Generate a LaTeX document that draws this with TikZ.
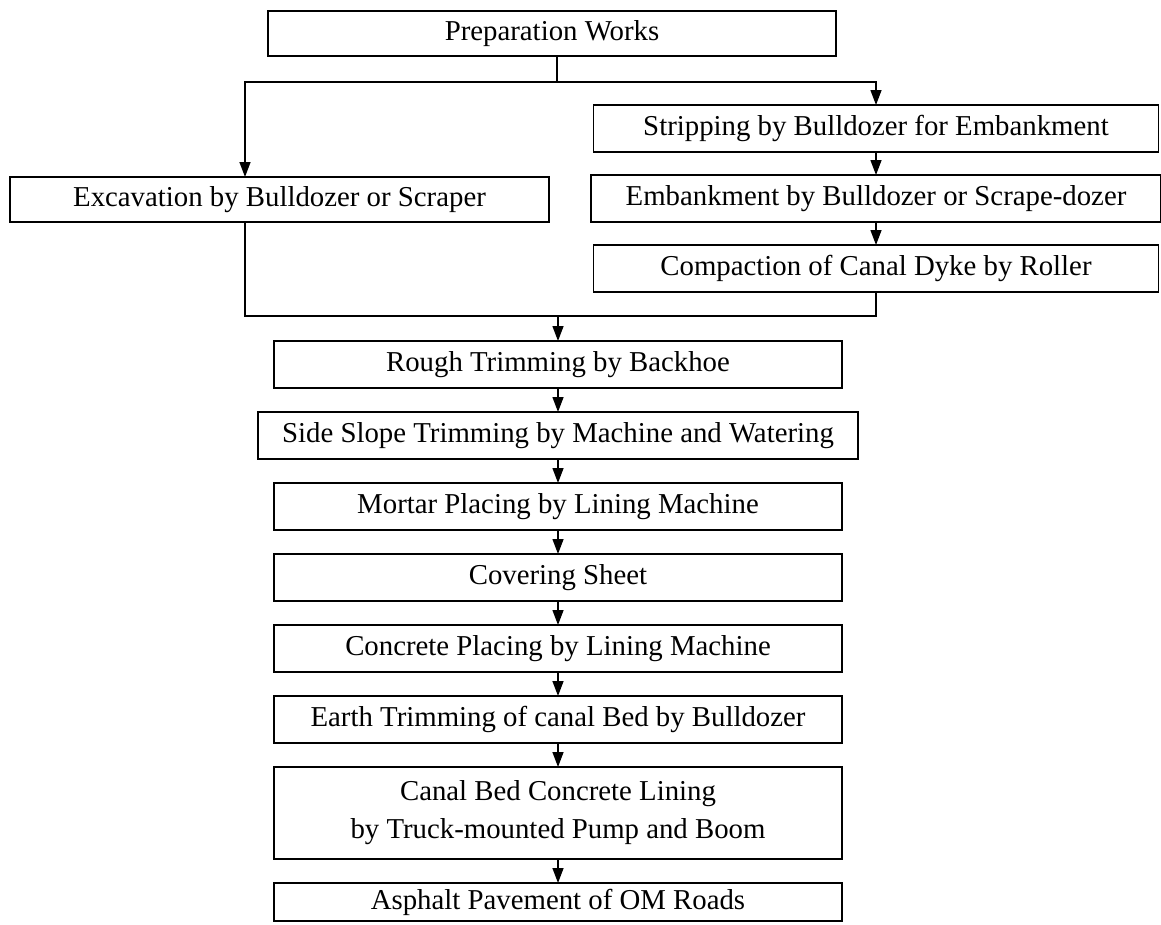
\documentclass[tikz,border=0pt]{standalone}
\usepackage{fontspec}
\setmainfont{Liberation Serif}
\usetikzlibrary{positioning,arrows.meta}

\begin{document}
\begin{tikzpicture}[x=1pt, y=-1pt,
            box/.style={draw, line width=1.8pt, rectangle, outer sep=0pt, inner sep=0pt,
                        minimum height=47pt, font=\fontsize{28.8}{38}\selectfont, align=center},
            arr/.style={-{Triangle[length=15pt, width=11pt]}},
            node distance=24pt]
        \useasboundingbox (0,0) rectangle (1161,924);
        \tikzset{every path/.style={line width=1.4pt}}

        \node (prep) [box, minimum width=568pt, minimum height=45pt] at (552,33.5) {Preparation Works};
        \node (exc) [box, minimum width=539pt, minimum height=45pt] at (279.5,199.5) {Excavation by Bulldozer or Scraper};

        \node (strip) [box, minimum width=565pt] at (876,128.5) {Stripping by Bulldozer for Embankment};
        \node (emb) [box, minimum width=570pt, below=23pt of strip] {Embankment by Bulldozer or Scrape-dozer};
        \node (comp) [box, minimum width=565pt, below=23pt of emb] {Compaction of Canal Dyke by Roller};

        \node (rough) [box, minimum width=568pt] at (558,364.5) {Rough Trimming by Backhoe};
        \node (side) [box, minimum width=600pt, below=of rough] {Side Slope Trimming by Machine and Watering};
        \node (mortar) [box, minimum width=568pt, below=of side] {Mortar Placing by Lining Machine};
        \node (cover) [box, minimum width=568pt, below=of mortar] {Covering Sheet};
        \node (concr) [box, minimum width=568pt, below=of cover] {Concrete Placing by Lining Machine};
        \node (earth) [box, minimum width=568pt, below=of concr] {Earth Trimming of canal Bed by Bulldozer};
        \node (bed) [box, minimum width=568pt, minimum height=92pt, below=of earth] {Canal Bed Concrete Lining\\by Truck-mounted Pump and Boom};
        \node (asph) [box, minimum width=568pt, minimum height=38pt, below=of bed] {Asphalt Pavement of OM Roads};

        % splitting and joining of the two branches
        \coordinate (split) at (557,82);
        \coordinate (lft) at (245,82);
        \coordinate (join) at (558,316);

        \draw (prep.south -| split) -- (split);
        \draw [arr] (split) -- (lft) -- (lft |- exc.north);
        \draw [arr] (split) -| (strip.north);
        \draw [arr] (strip) -- (emb);
        \draw [arr] (emb) -- (comp);
        \draw (exc.south -| lft) |- (join) -| (comp.south);
        \draw [arr] (join) -- (rough.north);

        \draw [arr] (rough) -- (side);
        \draw [arr] (side) -- (mortar);
        \draw [arr] (mortar) -- (cover);
        \draw [arr] (cover) -- (concr);
        \draw [arr] (concr) -- (earth);
        \draw [arr] (earth) -- (bed);
        \draw [arr] (bed) -- (asph);
    \end{tikzpicture}
\end{document}
